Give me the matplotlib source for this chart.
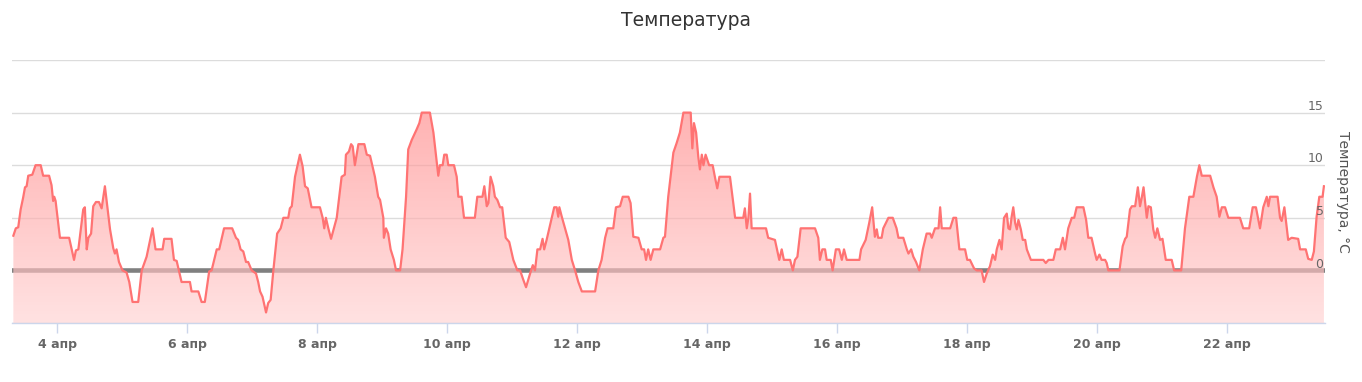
import numpy as np
import matplotlib
matplotlib.use("Agg")
import matplotlib.pyplot as plt

# hours since 4 Apr 00:00 and temperature (°C)
hours = [
    -16.2, -15.3, -14.4, -13.5, -12.6, -11.9, -11.3, -10.7, -9.2, -8.0, -6.1, -5.2, -3.0, -2.1, -1.5, -1.1, -0.6,
    1.0, 4.4, 6.2, 6.9, 7.8, 9.6, 10.2, 10.9, 11.5, 12.5, 13.3, 14.3, 15.4, 16.4, 17.6, 19.5, 20.7, 21.3, 21.9, 22.8,
    24.1, 25.6, 26.6, 27.8, 29.9, 31.2, 33.0, 35.2, 36.3, 38.9, 39.5, 42.2, 43.1, 44.1, 45.9, 49.0, 49.6, 52.1, 53.3,
    54.5, 56.1, 57.0, 58.9, 59.8,
    61.6, 64.6, 66.0, 66.8, 67.7, 68.7, 69.7, 70.5, 71.8, 73.4, 74.2, 74.9, 75.8, 77.1, 77.9, 78.8, 79.8, 81.2, 82.5,
    83.5, 85.3, 85.9, 86.6, 87.8, 89.6, 90.6, 91.5, 92.5, 93.9, 97.0, 98.0, 98.6, 99.2, 100.1, 101.1, 103.2, 105.0,
    106.2, 106.6, 107.7, 108.5, 109.1, 109.9, 111.2, 113.4, 114.3, 115.5, 117.3, 118.5, 119.2, 120.4, 120.6, 121.4,
    122.2, 123.1, 124.3, 125.1, 126.6, 127.5, 128.8, 129.6, 130.9, 132.7, 133.7, 134.6, 137.6, 138.9, 140.7, 141.3,
    142.3, 142.9, 143.8, 144.4,
    146.5, 147.5, 148.1, 149.3, 150.2, 154.2, 155.1, 157.0, 157.7, 158.6, 159.2, 160.0, 161.0, 161.6, 162.5, 163.5,
    164.3, 165.6, 166.9, 168.4, 169.9, 170.9, 172.1, 173.1, 174.6, 175.6, 176.4, 177.3, 178.3, 179.2, 179.8, 180.7,
    182.6, 183.5, 184.4, 185.0, 185.4, 186.3, 187.5, 188.7, 190.0, 191.2, 192.4, 193.7, 198.6, 199.8, 201.0, 202.3,
    203.2, 205.3, 206.3, 207.8, 208.8, 210.9, 211.7, 212.7, 214.6, 215.8, 216.7, 217.4, 218.2, 219.1, 220.1, 222.6,
    223.8, 224.4, 225.6, 227.5, 228.7, 229.9, 231.2, 233.9, 234.5, 235.1, 235.9, 236.7, 237.3, 238.0, 238.6, 239.4,
    240.7, 242.0, 242.9, 243.7, 244.5, 248.4, 250.3, 253.3, 253.9, 254.6, 255.2, 255.8, 256.4, 261.7, 262.5, 265.0,
    266.6, 267.5, 268.3, 270.6, 271.6, 272.4, 273.3, 274.5, 279.8, 281.0, 281.6, 282.5, 283.5, 284.1, 285.6, 286.3,
    287.5, 288.7, 289.7, 290.5, 291.5, 296.2, 296.8, 298.5, 299.8, 300.9, 301.9, 302.6, 303.1, 304.4,
    305.0, 306.9, 308.5, 309.9, 310.6, 312.4, 313.7, 314.3, 315.3, 316.1, 317.1, 318.3, 319.6, 321.0, 322.3, 322.9,
    324.1, 325.4, 326.0, 326.6, 329.7, 330.9, 331.9, 333.1, 335.2, 336.0, 337.0, 338.5, 339.5, 341.3, 342.2, 343.2,
    344.4, 345.4, 346.3, 346.9, 347.9, 348.7, 349.6, 350.6, 351.2, 351.8, 352.4, 353.0, 353.7, 354.3, 354.9, 355.8,
    356.5, 357.4, 358.0, 359.5, 364.1, 365.0, 366.0, 367.8, 368.7, 370.3, 371.3, 372.1, 373.3, 374.6, 375.5, 376.4,
    378.9, 379.9, 380.7, 381.9, 383.2, 383.8, 384.8, 385.6, 386.9, 387.5, 388.1,
    392.2, 393.4, 394.3, 394.9, 396.1, 396.8, 398.0, 399.0, 399.8, 400.5, 401.1, 402.3, 402.9, 403.8, 404.7, 405.4,
    406.2, 407.2, 408.1, 409.3, 411.5, 412.4, 415.0, 416.4, 418.0, 419.5, 420.8, 421.7, 422.6, 425.7, 426.9, 428.1,
    429.1, 430.0, 431.2, 432.4, 436.7, 437.9, 440.1, 441.4, 442.6, 444.1, 445.3, 446.6, 447.2, 447.8, 450.6, 451.5,
    452.1, 453.1, 454.5, 455.8, 458.2, 458.9, 461.0, 461.9, 463.2, 464.0, 465.0, 466.0, 467.2, 467.7,
]
temps = [
    3.3, 4.0, 4.1, 5.8, 6.9, 7.9, 8.0, 9.0, 9.1, 10.0, 10.0, 9.0, 9.0, 8.1, 6.6, 7.0, 6.6,
    3.1, 3.1, 1.0, 1.9, 2.0, 5.8, 6.0, 2.0, 3.1, 3.5, 6.1, 6.5, 6.5, 5.9, 8.0, 3.9, 2.1, 1.6, 2.0, 0.8,
    0.0, -0.2, -1.1, -3.0, -3.0, 0.0, 1.3, 4.0, 2.0, 2.0, 3.0, 3.0, 1.0, 0.9, -1.1, -1.1, -2.0, -2.0, -3.0,
    -3.0, -0.1, 0.0, 2.0, 2.0,
    4.0, 4.0, 3.1, 2.9, 2.0, 1.8, 0.8, 0.8, 0.0, -0.3, -1.1, -2.0, -2.5, -4.0, -3.1, -2.8, 0.0, 3.5, 4.0,
    5.0, 5.0, 5.9, 6.1, 8.9, 11.0, 9.9, 8.0, 7.8, 6.0, 6.0, 5.0, 4.0, 5.0, 4.0, 3.0, 5.0, 8.9,
    9.1, 11.0, 11.3, 12.0, 11.8, 10.0, 12.0, 12.0, 11.0, 10.9, 8.9, 7.0, 6.7, 5.0, 3.1, 4.0,
    3.5, 2.0, 1.0, 0.0, 0.0, 2.0, 7.0, 11.5, 12.4, 13.4, 14.0, 15.0, 15.0, 13.1, 9.0, 10.0,
    10.0, 11.0, 11.0, 10.0,
    10.0, 8.9, 7.0, 7.0, 5.0, 5.0, 7.0, 7.0, 8.0, 6.1, 6.4, 8.9, 8.0, 7.0, 6.7, 6.0,
    6.0, 3.1, 2.7, 1.0, 0.0, 0.0, -0.9, -1.6, -0.3, 0.5, 0.0, 2.0, 2.0, 3.0, 2.0, 2.9,
    5.0, 6.0, 6.0, 5.1, 6.0, 5.1, 4.0, 2.9, 1.0, 0.0, -1.1, -2.0, -2.0, 0.0, 1.0, 3.1,
    4.0, 4.0, 6.0, 6.1, 7.0, 7.0, 6.4, 3.2, 3.1, 2.0, 2.0, 1.0, 2.0, 1.0, 2.0, 2.0,
    3.1, 3.2, 7.0, 11.2, 12.1, 13.1, 15.0, 15.0, 11.6, 14.0, 13.1, 10.8, 9.6, 11.0, 10.0, 11.0,
    10.0, 10.0, 8.8, 7.8, 8.9, 8.9, 5.0, 5.0, 5.9, 4.0, 5.0, 7.3, 4.0, 4.0, 3.1, 2.9,
    1.0, 2.0, 1.0, 1.0, 0.0, 1.0, 1.3, 4.0, 4.0, 3.1, 1.0, 2.0, 2.0, 1.0, 1.0, 0.0,
    2.0, 2.0, 1.0, 2.0, 1.0, 1.0, 2.0, 2.9, 4.5, 6.0, 3.2, 3.9, 3.1, 3.1,
    4.0, 5.0, 5.0, 4.0, 3.1, 3.1, 2.0, 1.6, 2.0, 1.3, 0.8, 0.0, 2.0, 3.5, 3.5, 3.1,
    4.0, 4.0, 6.0, 4.0, 4.0, 5.0, 5.0, 2.0, 2.0, 1.0, 1.0, 0.2, 0.0, 0.0, -1.1, -0.3,
    0.4, 1.5, 1.0, 2.0, 2.9, 2.0, 5.0, 5.4, 4.0, 3.9, 5.1, 6.0, 4.5, 3.9, 4.8, 3.9,
    2.9, 2.9, 2.0, 1.0, 1.0, 0.7, 1.0, 1.0, 2.0, 2.0, 3.1, 2.0, 4.0, 5.0, 5.0, 6.0,
    6.0, 4.8, 3.1, 3.1, 1.6, 1.0, 1.5, 1.0, 1.0, 0.7, 0.0,
    0.0, 2.3, 3.0, 3.2, 5.8, 6.1, 6.1, 7.9, 6.1, 7.0, 7.9, 5.0, 6.1, 6.0, 3.9, 3.1,
    4.0, 2.9, 3.0, 1.0, 1.0, 0.0, 0.0, 4.0, 7.0, 7.0, 8.9, 10.0, 9.0, 9.0, 7.9, 7.0,
    5.1, 6.0, 6.0, 5.0, 5.0, 4.0, 4.0, 6.0, 6.0, 4.0, 6.0, 7.0, 6.1, 7.0, 7.0, 5.0,
    4.7, 6.0, 2.9, 3.1, 3.0, 2.0, 2.0, 1.1, 1.0, 1.8, 5.1, 7.0, 7.0, 8.0,
]

tick_days = [4, 6, 8, 10, 12, 14, 16, 18, 20, 22]
tick_labels = [f"{d} апр" for d in tick_days]
y_label_values = [0, 5, 10, 15]

W, H = 1362, 382
fig = plt.figure(figsize=(W / 100, H / 100), dpi=100)
L, R, T, B = 12, 1325, 60, 323
ax = fig.add_axes([L / W, 1 - B / H, (R - L) / W, (B - T) / H])

x = 4 + np.array(hours) / 24.0
y = np.array(temps)
xmin, xmax = 4 - 16.7 / 24, 4 + 468.1 / 24
ax.set_xlim(xmin, xmax)
ax.set_ylim(-5, 20)

# grid
ax.set_yticks([-5, 0, 5, 10, 15, 20])
ax.yaxis.grid(True, color="#dcdcdc", lw=1.0, zorder=0)
ax.tick_params(axis="y", left=False, right=False, labelleft=False, labelright=False)
for s in ["top", "left", "right"]:
    ax.spines[s].set_visible(False)
ax.spines["bottom"].set_color("#ccd6eb")
ax.spines["bottom"].set_linewidth(1.0)
ax.set_axisbelow(True)

# zero plot line
ax.axhline(0, color="#808080", lw=3.3, zorder=1.5)

# gradient fill
poly = ax.fill_between(x, y, -5, color="none", lw=0)
n = 256
g = np.linspace(140, 211, n) / 255.0
img = np.zeros((n, 1, 4))
img[:, 0, 0] = 1.0
img[:, 0, 1] = g
img[:, 0, 2] = g
img[:, 0, 3] = 0.66
im = ax.imshow(img, extent=[xmin, xmax, -5, 15], origin="upper", aspect="auto",
               interpolation="bilinear", zorder=2)
im.set_clip_path(poly.get_paths()[0], ax.transData)
ax.set_xlim(xmin, xmax)
ax.set_ylim(-5, 20)

# line
ax.plot(x, y, color="#ff7373", lw=1.6, zorder=3, solid_joinstyle="round")

# x ticks
ax.set_xticks(tick_days)
ax.set_xticklabels(tick_labels, fontsize=9, fontweight="bold", color="#666666")
ax.tick_params(axis="x", length=7.5, width=1.0, color="#ccd6eb", pad=3)

# y labels on right inside plot
for v in y_label_values:
    ax.annotate(str(v), xy=(1.0, v), xycoords=("axes fraction", "data"),
                xytext=(-1, 2), textcoords="offset points", ha="right", va="baseline",
                fontsize=9, color="#666666")

fig.text(686 / W, 1 - 20 / H, "Температура", ha="center", va="center",
         fontsize=13.5, color="#333333")
fig.text(1343 / W, 1 - 192 / H, "Температура, °C", rotation=270, ha="center", va="center",
         fontsize=10, color="#555555")

fig.savefig("out.png", dpi=100)
